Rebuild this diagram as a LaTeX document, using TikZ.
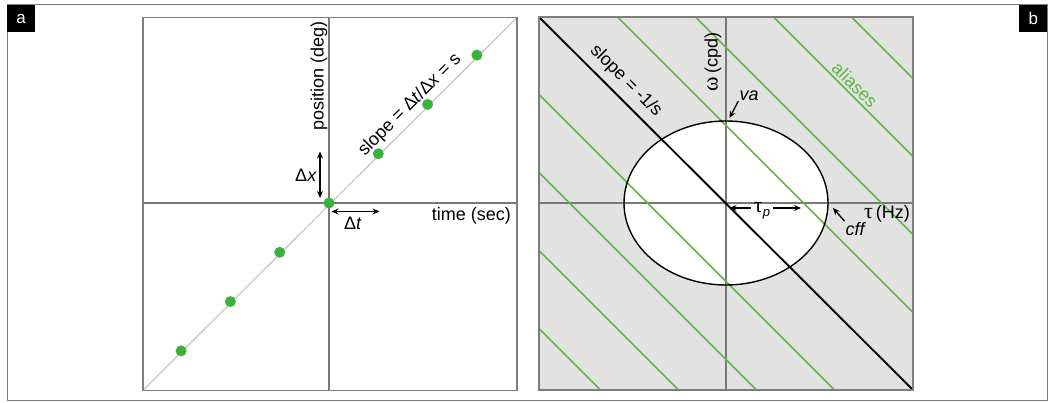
\documentclass[tikz,border=0pt]{standalone}
\usepackage{fontspec}
\setmainfont{Liberation Sans}
\newfontfamily\grk{Liberation Serif}
\newcommand{\gk}[1]{{\grk\fontsize{22}{22}\selectfont #1}}
\usetikzlibrary{arrows.meta}
\definecolor{frm}{RGB}{125,125,125}
\definecolor{axc}{RGB}{120,120,120}
\definecolor{dotg}{RGB}{60,178,60}
\definecolor{lineg}{RGB}{95,182,65}
\definecolor{fillg}{RGB}{226,226,226}
\definecolor{diagc}{RGB}{200,200,200}
\begin{document}
\begin{tikzpicture}[x=1pt,y=1pt,
  lbl/.style={font=\fontsize{18}{21}\selectfont, inner sep=0pt},
  tag/.style={fill=black, text=white, font=\fontsize{17}{20}\selectfont, minimum width=28pt, minimum height=27pt, inner sep=0pt},
  panel/.style={draw=frm, line width=1.3pt},
  axis/.style={draw=axc, line width=1.2pt},
  dbl/.style={{Stealth[length=7pt,width=6pt]}-{Stealth[length=7pt,width=6pt]}, line width=1.3pt},
  sgl/.style={-{Stealth[length=7pt,width=6pt]}, line width=1.3pt},
  dot/.style={circle, fill=dotg, minimum size=11pt, inner sep=0pt}]
\useasboundingbox (0,0) rectangle (1050,-403);
\fill[white] (0,0) rectangle (1050,-403);
% outer frame
\draw[frm, line width=1pt] (7,-5) rectangle (1047.5,-400.5);
\node[tag, anchor=north west] (ta) at (7,-5) {a};
\node[tag, anchor=north east] (tb) at (1047.5,-5) {b};

% ---------------- panel a ----------------
\draw[axis] (329,-17.5) -- (329,-390.5);
\draw[axis] (143,-203) -- (517,-203);
\draw[diagc, line width=1.3pt] (143,-390.5) -- (517,-17.5);
\draw[panel] (143,-17.5) rectangle (517,-390.5);
\foreach \k in {-3,...,3}{
  \node[dot] (d\k) at ({329+49.3*\k},{-203+49.3*\k}) {};
}
\coordinate (dxa) at (320,-151.5);
\coordinate (dxb) at (320,-198);
\draw[dbl] (dxa) -- (dxb);
\coordinate (dta) at (331.5,-211.5);
\coordinate (dtb) at (379.5,-211.5);
\draw[dbl] (dta) -- (dtb);
\node[lbl] (dx) at (306,-175.5) {Δ\textit{x}};
\node[lbl] (dt) at (353,-223.5) {Δ\textit{t}};
\node[lbl, anchor=east] (time) at (511,-215.5) {time (sec)};
\node[lbl, rotate=90] (pos) at (319,-76) {position (deg)};
\node[lbl, rotate=45] (slopea) at (410,-105) {slope = Δ\textit{t}/Δ\textit{x} = s};

% ---------------- panel b ----------------
\fill[fillg] (539,-17) rectangle (913,-390);
\fill[white] (726,-203) ellipse [x radius=102, y radius=82];
\draw[axis] (726,-17) -- (726,-390);
\draw[axis] (539,-203) -- (913,-203);
\begin{scope}
  \clip (539,-17) rectangle (913,-390);
  \foreach \k in {-4,-3,-2,-1,1,2,3,4}{
    \draw[lineg, line width=1.6pt] ({522.5+78*\k+17},-17) -- ({522.5+78*\k+390},-390);
  }
\end{scope}
\draw[black, line width=1.4pt] (726,-203) ellipse [x radius=102, y radius=82];
\draw[black, line width=1.9pt] (539,-17) -- (913,-390);
\draw[panel] (539,-17) rectangle (913,-390);

\node[lbl, rotate=-45] (slopeb) at (626,-81) {slope = -1/s};
\node[lbl, rotate=90] (omega) at (713,-62) {\gk{ω}\,(cpd)};
\node[lbl, rotate=-45, text=lineg] (alias) at (855,-85) {aliases};
\node[lbl] (va) at (749,-96) {\textit{va}};
\coordinate (vat) at (729.5,-118);
\draw[sgl] (va.south west) ++(-1,0) -- (vat);
\node[lbl] (tp) at (762,-211) {\gk{τ}\raisebox{-4pt}{\fontsize{13}{13}\selectfont\textit{p}}};
\coordinate (tpl) at (729.5,-208);
\coordinate (tpr) at (801,-208);
\draw[sgl] (tp.west |- tpl) ++(-3,0) -- (tpl);
\draw[sgl] (tp.east |- tpr) ++(3,0) -- (tpr);
\node[lbl] (tau) at (887,-214) {\gk{τ}\,(Hz)};
\node[lbl] (cff) at (856,-229) {\textit{cff}};
\coordinate (cfft) at (833,-208);
\draw[sgl] (cff.north west) ++(-1,1) -- (cfft);
\end{tikzpicture}
\end{document}
